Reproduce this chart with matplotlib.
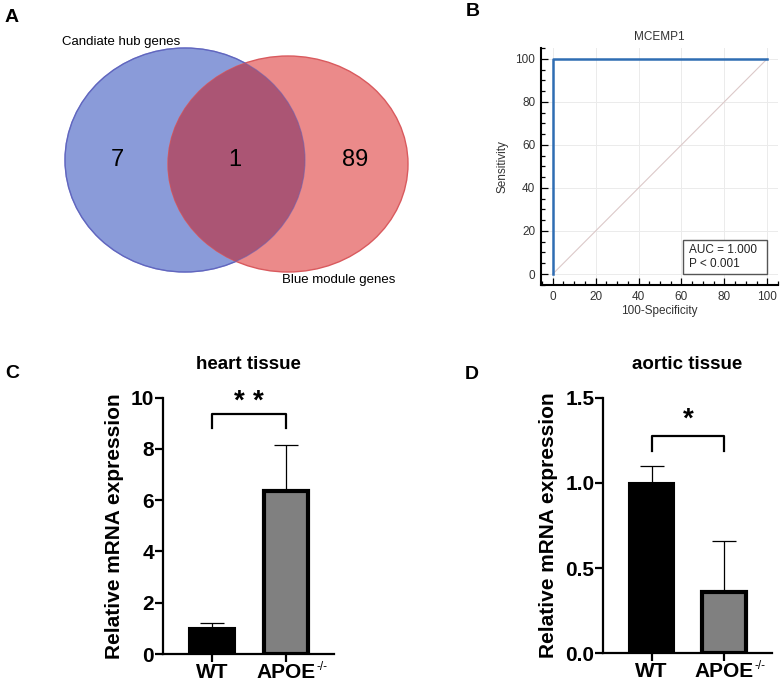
import matplotlib

matplotlib.use("Agg")
import matplotlib.pyplot as plt  # noqa: E402
from matplotlib.patches import Ellipse, Rectangle  # noqa: E402
from matplotlib.ticker import MultipleLocator, FormatStrFormatter  # noqa: E402

plt.rcParams["font.family"] = ["Liberation Sans", "DejaVu Sans"]

W, H = 781, 689

# --- data ---
venn_labels = ["Candiate hub genes", "Blue module genes"]
venn_counts = [7, 1, 89]            # only left, both, only right

roc_fpr = [0, 0, 100]
roc_tpr = [0, 100, 100]
roc_title = "MCEMP1"
roc_auc_text = "AUC = 1.000\nP < 0.001"

groups = ["WT", "APOE"]
group_sup = ["", "-/-"]
heart_mean = [1.0, 6.35]
heart_err = [0.22, 1.82]
aortic_mean = [1.0, 0.36]
aortic_err = [0.10, 0.30]

fig = plt.figure(figsize=(W / 100, H / 100), dpi=100)


def px_axes(x0, y0, x1, y1):
    # axes placed by pixel box (top-left origin)
    return fig.add_axes([x0 / W, 1 - y1 / H, (x1 - x0) / W, (y1 - y0) / H])


# ---------------- A: Venn ----------------
axA = px_axes(0, 0, 420, 300)
axA.set_xlim(0, 420); axA.set_ylim(300, 0); axA.axis("off")
blue = Ellipse((185, 160), 240, 224, facecolor="#8a9bd9", edgecolor="#5b6fce", lw=1.0)
red = Ellipse((288, 164), 240, 216, facecolor="#eb8a8a", edgecolor="#d95a5e", lw=1.0)
axA.add_patch(blue); axA.add_patch(red)
both = Ellipse((288, 164), 240, 216, facecolor="#ab5574", edgecolor="none")
axA.add_patch(both)
both.set_clip_path(Ellipse((185, 160), 240, 224, transform=axA.transData))
axA.add_patch(Ellipse((185, 160), 240, 224, facecolor="none", edgecolor="#6a5fb0", lw=0.8, alpha=0.6))
for xpos, c in zip([117, 235, 355], venn_counts):
    axA.text(xpos, 160, str(c), ha="center", va="center", fontsize=17)
axA.text(62, 42, venn_labels[0], ha="left", va="center", fontsize=9.5)
axA.text(282, 280, venn_labels[1], ha="left", va="center", fontsize=9.5)

# ---------------- B: ROC ----------------
axB = px_axes(540.7, 48, 778, 285)
axB.plot([0, 100], [0, 100], color="#dcc9c9", lw=0.8, zorder=2)
axB.plot(roc_fpr, roc_tpr, color="#2f6db3", lw=1.8, zorder=3)
axB.set_xlim(-5.6, 105); axB.set_ylim(-5.1, 105)
axB.xaxis.set_major_locator(MultipleLocator(20)); axB.xaxis.set_minor_locator(MultipleLocator(5))
axB.yaxis.set_major_locator(MultipleLocator(20)); axB.yaxis.set_minor_locator(MultipleLocator(5))
axB.grid(True, which="major", color="#ebebeb", lw=0.7, zorder=0)
for s in ["top", "right"]:
    axB.spines[s].set_visible(False)
for s in ["left", "bottom"]:
    axB.spines[s].set_linewidth(1.5)
axB.tick_params(which="major", direction="in", length=5, width=0.9, labelsize=8.5, pad=4,
                labelcolor="#333333")
axB.tick_params(which="minor", direction="in", length=3, width=0.9)
axB.set_title(roc_title, fontsize=8.5, pad=6, color="#333333")
axB.set_xlabel("100-Specificity", fontsize=8.5, labelpad=2, color="#333333")
axB.set_ylabel("Sensitivity", fontsize=8.5, labelpad=5, color="#333333")
axB.add_patch(Rectangle((60.5, 0), 39.5, 15.8, fc="white", ec="#555555", lw=1.0, zorder=4))
axB.text(63.5, 7.9, roc_auc_text, fontsize=8.5, va="center", ha="left",
         linespacing=1.15, color="#222222", zorder=5)


# ---------------- C/D: bars ----------------
def bar_panel(ax, means, errs, ymax, step, fmt, title, bracket, star_y, n_stars):
    x = [0, 1]
    ax.bar(x[0], means[0], 0.62, color="black", edgecolor="black", lw=1.5, zorder=2)
    ax.bar(x[1], means[1], 0.6, color="#808080", edgecolor="black", lw=3, zorder=2)
    ax.errorbar(x, means, yerr=[[0, 0], errs], fmt="none", ecolor="black",
                elinewidth=0.9, capsize=8.5, capthick=0.9, zorder=1)
    ax.set_xlim(-0.67, 1.66); ax.set_ylim(0, ymax)
    ax.yaxis.set_major_locator(MultipleLocator(step))
    ax.yaxis.set_major_formatter(FormatStrFormatter(fmt))
    ax.set_xticks(x); ax.set_xticklabels(groups)
    for s in ["top", "right"]:
        ax.spines[s].set_visible(False)
    for s in ["left", "bottom"]:
        ax.spines[s].set_linewidth(1.6)
    ax.spines["bottom"].set_zorder(3)
    ax.tick_params(length=5.5, width=1.6, labelsize=15, pad=1)
    for lab in ax.get_xticklabels() + ax.get_yticklabels():
        lab.set_fontweight("bold")
    for lab, sup in zip(ax.get_xticklabels(), group_sup):
        if sup:
            ax.annotate(sup, xy=(1.0, 1.12), xycoords=lab, ha="left", va="top",
                        fontsize=8.5, xytext=(1, 0), textcoords="offset points")
    ax.set_ylabel("Relative mRNA expression", fontsize=15, fontweight="bold", labelpad=5)
    ax.set_title(title, fontsize=13.5, fontweight="bold", pad=21)
    top, leg = bracket
    ax.plot([0, 0, 1, 1], [leg, top, top, leg], color="black", lw=1.6, clip_on=False)
    offs = [0.0] if n_stars == 1 else [-0.13, 0.13]
    for o in offs:
        ax.text(0.5 + o, star_y, "*", ha="center", va="center", fontsize=20,
                fontweight="bold", clip_on=False)


axC = px_axes(163, 397.7, 334, 654)
bar_panel(axC, heart_mean, heart_err, 10, 2, "%d", "heart tissue", (9.35, 8.8), 9.85, 2)
axD = px_axes(603.3, 397.7, 771.7, 653.3)
bar_panel(axD, aortic_mean, aortic_err, 1.5, 0.5, "%.1f", "aortic tissue", (1.275, 1.19), 1.37, 1)

# panel letters
for lab, (xp, yp) in zip("ABCD", [(12, 18), (473, 11), (12, 373), (472, 375)]):
    fig.text(xp / W, 1 - yp / H, lab, fontsize=14, fontweight="bold", ha="center", va="center")

fig.savefig("out.png", dpi=100)
